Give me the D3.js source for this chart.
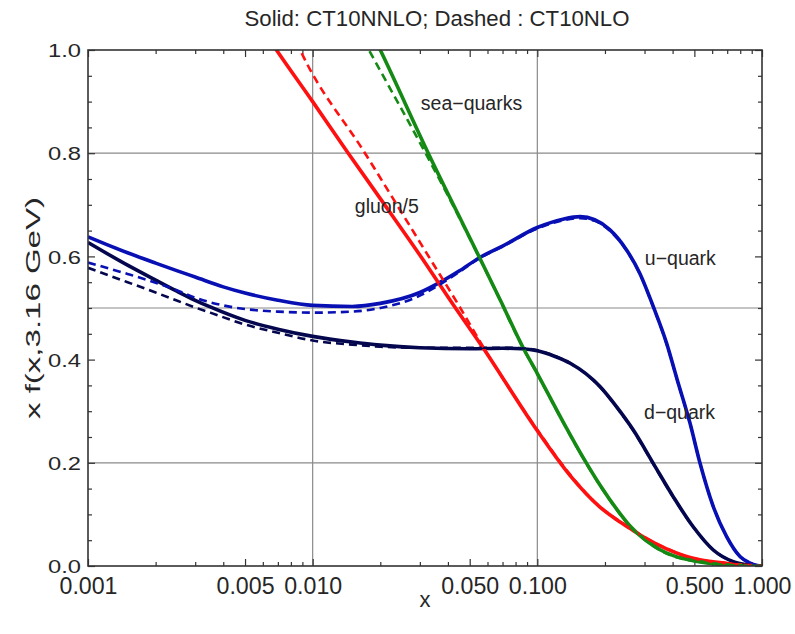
<!DOCTYPE html>
<html><head><meta charset="utf-8">
<script src="https://cdn.jsdelivr.net/npm/d3@7"></script>
<style>
html,body{margin:0;padding:0;background:#fff;}
svg{display:block;font-family:"Liberation Sans",Arial,Helvetica,sans-serif;}
</style></head>
<body>
<svg id="chart" width="795" height="634"></svg>
<script>
// ---------- data ----------
const titleText = "Solid: CT10NNLO; Dashed : CT10NLO";
const xLabelText = "x";
const yLabelText = "x f(x,3.16 GeV)";

const xMajorTicks = [0.001, 0.005, 0.01, 0.05, 0.1, 0.5, 1.0];
const xMinorTicks = [0.002,0.003,0.004,0.006,0.007,0.008,0.009,
                     0.02,0.03,0.04,0.06,0.07,0.08,0.09,
                     0.2,0.3,0.4,0.6,0.7,0.8,0.9];
const yMajorTicks = [0, 0.2, 0.4, 0.6, 0.8, 1.0];
const yMinorTicks = [0.05,0.1,0.15,0.25,0.3,0.35,0.45,0.5,0.55,0.65,0.7,0.75,0.85,0.9,0.95];
const xGrid = [0.01, 0.1];
const yGrid = [0.2, 0.5, 0.8];

// u-quark
const uX_NNLO = [0.001,0.0015,0.002,0.0025,0.003,0.004,0.005,0.007,0.01,0.015,0.02,0.03,0.037,0.045,0.055,0.07,0.1,0.13,0.155,0.18,0.21,0.25,0.286,0.328,0.376,0.42,0.478,0.53,0.607,0.696,0.8,0.88,0.95,1.0];
const uY_NNLO = [0.638,0.607,0.587,0.572,0.560,0.541,0.529,0.515,0.505,0.503,0.509,0.530,0.550,0.572,0.597,0.620,0.656,0.672,0.677,0.671,0.652,0.612,0.567,0.503,0.432,0.360,0.277,0.199,0.115,0.057,0.018,0.006,0.001,0.0];
const uX_NLO  = [0.001,0.0015,0.002,0.0025,0.003,0.004,0.005,0.007,0.01,0.015,0.02,0.03,0.037,0.045,0.055,0.07,0.1,0.13,0.155,0.18,0.21,0.25,0.286,0.328,0.376,0.42,0.478,0.53,0.607,0.696,0.8,0.88,0.95,1.0];
const uY_NLO  = [0.588,0.566,0.549,0.534,0.520,0.505,0.498,0.493,0.491,0.493,0.500,0.524,0.546,0.570,0.596,0.619,0.654,0.670,0.674,0.669,0.650,0.611,0.566,0.502,0.431,0.359,0.277,0.199,0.115,0.057,0.018,0.006,0.001,0.0];

// d-quark
const dX_NNLO = [0.001,0.0015,0.002,0.0025,0.003,0.0035,0.005,0.007,0.01,0.015,0.02,0.03,0.05,0.07,0.085,0.1,0.12,0.14,0.19,0.225,0.267,0.328,0.403,0.494,0.607,0.75,0.88,1.0];
const dY_NNLO = [0.627,0.583,0.554,0.532,0.515,0.502,0.476,0.459,0.445,0.434,0.428,0.423,0.421,0.422,0.421,0.417,0.406,0.393,0.348,0.309,0.264,0.199,0.134,0.076,0.031,0.008,0.002,0.0];
const dX_NLO  = [0.001,0.0015,0.002,0.0025,0.003,0.0035,0.005,0.007,0.01,0.015,0.02,0.03,0.05,0.07,0.085,0.1,0.12,0.14,0.19,0.225,0.267,0.328,0.403,0.494,0.607,0.75,0.88,1.0];
const dY_NLO  = [0.578,0.550,0.530,0.514,0.501,0.491,0.468,0.452,0.437,0.429,0.425,0.423,0.423,0.423,0.422,0.418,0.407,0.393,0.347,0.308,0.263,0.198,0.133,0.076,0.031,0.008,0.002,0.0];

// gluon / 5
const gX_NNLO = [0.0062,0.0069,0.01,0.0144,0.02,0.0322,0.0408,0.0575,0.1,0.14,0.19,0.225,0.258,0.3,0.376,0.45,0.529,0.7,0.9,1.0];
const gY_NNLO = [1.03,1.0,0.900,0.800,0.712,0.583,0.516,0.422,0.262,0.175,0.114,0.090,0.073,0.055,0.033,0.020,0.012,0.005,0.001,0.0];
const gX_NLO  = [0.0080,0.0088,0.0171,0.0339,0.045,0.0575,0.1,0.14,0.19,0.225,0.258,0.3,0.376,0.45,0.529,0.7,0.9,1.0];
const gY_NLO  = [1.04,1.0,0.800,0.590,0.503,0.424,0.264,0.177,0.115,0.091,0.074,0.056,0.034,0.020,0.012,0.005,0.001,0.0];

// sea quarks
const sX_NNLO = [0.019,0.02,0.0327,0.0537,0.0683,0.0867,0.1,0.13,0.16,0.19,0.233,0.258,0.29,0.317,0.35,0.403,0.53,0.7,1.0];
const sY_NNLO = [1.02,1.0,0.800,0.609,0.516,0.422,0.373,0.280,0.210,0.157,0.102,0.078,0.057,0.044,0.032,0.020,0.008,0.002,0.0];
const sX_NLO  = [0.0168,0.0178,0.0318,0.04,0.0537,0.0683,0.0867,0.1,0.13,0.16,0.19,0.233,0.258,0.29,0.317,0.35,0.403,0.53,0.7,1.0];
const sY_NLO  = [1.02,1.0,0.800,0.718,0.608,0.515,0.421,0.372,0.279,0.209,0.156,0.101,0.077,0.056,0.043,0.031,0.019,0.008,0.002,0.0];

const curveLabels = ["sea\u2212quarks", "gluon/5", "u\u2212quark", "d\u2212quark"];
const curveLabelAt = [[0.0303, 0.884], [0.0154, 0.684], [0.301, 0.583], [0.2985, 0.284]];

// ---------- layout ----------
const svg = d3.select("#chart");
const L = 88, R = 762, T = 50, B = 566;
const x = d3.scaleLog().domain([0.001, 1]).range([L, R]);
const y = d3.scaleLinear().domain([0, 1]).range([B, T]);

const colors = {u: "#0810b4", d: "#05074e", g: "#ff1010", s: "#148a14"};
const gridCol = "#8a8a8a", frameCol = "#333", textCol = "#262626";

svg.append("defs").append("clipPath").attr("id","clip")
  .append("rect").attr("x",L).attr("y",T).attr("width",R-L).attr("height",B-T);

// grid
const grid = svg.append("g");
grid.selectAll("line.gx").data(xGrid).join("line")
  .attr("x1",d=>x(d)).attr("x2",d=>x(d)).attr("y1",T).attr("y2",B)
  .attr("stroke",gridCol).attr("stroke-width",1.2);
grid.selectAll("line.gy").data(yGrid).join("line")
  .attr("y1",d=>y(d)).attr("y2",d=>y(d)).attr("x1",L).attr("x2",R)
  .attr("stroke",gridCol).attr("stroke-width",1.2);

// axes ticks
function styleAxis(g){ g.select(".domain").remove(); g.selectAll(".tick line").attr("stroke",frameCol).attr("stroke-width",1.2); }

const xb = svg.append("g").attr("transform",`translate(0,${B})`)
  .call(d3.axisBottom(x).tickValues(xMajorTicks).tickSize(-7).tickFormat(d3.format(".3f")));
styleAxis(xb);
xb.selectAll(".tick text").attr("y",28).attr("dy",null)
  .attr("font-size",24).attr("fill",textCol)
  .attr("textLength",58).attr("lengthAdjust","spacingAndGlyphs");
svg.append("g").attr("transform",`translate(0,${B})`)
  .call(d3.axisBottom(x).tickValues(xMinorTicks).tickSize(-4).tickFormat(""))
  .call(styleAxis);
svg.append("g").attr("transform",`translate(0,${T})`)
  .call(d3.axisTop(x).tickValues(xMajorTicks).tickSize(-7).tickFormat(""))
  .call(styleAxis);
svg.append("g").attr("transform",`translate(0,${T})`)
  .call(d3.axisTop(x).tickValues(xMinorTicks).tickSize(-4).tickFormat(""))
  .call(styleAxis);

const yl = svg.append("g").attr("transform",`translate(${L},0)`)
  .call(d3.axisLeft(y).tickValues(yMajorTicks).tickSize(-7).tickFormat(d3.format(".1f")));
styleAxis(yl);
yl.selectAll(".tick text").attr("x",-7).attr("dy","0.36em")
  .attr("font-size",18.5).attr("fill",textCol)
  .attr("textLength",33).attr("lengthAdjust","spacingAndGlyphs");
svg.append("g").attr("transform",`translate(${L},0)`)
  .call(d3.axisLeft(y).tickValues(yMinorTicks).tickSize(-4).tickFormat(""))
  .call(styleAxis);
svg.append("g").attr("transform",`translate(${R},0)`)
  .call(d3.axisRight(y).tickValues(yMajorTicks).tickSize(-7).tickFormat(""))
  .call(styleAxis);
svg.append("g").attr("transform",`translate(${R},0)`)
  .call(d3.axisRight(y).tickValues(yMinorTicks).tickSize(-4).tickFormat(""))
  .call(styleAxis);

// curves
const line = d3.line().x(d=>x(d[0])).y(d=>y(d[1])).curve(d3.curveMonotoneX);
const zip = (xs, ys) => xs.map((v,i)=>[v, ys[i]]);
const series = [
  {xs:dX_NNLO, ys:dY_NNLO, c:colors.d, dash:false},
  {xs:uX_NNLO, ys:uY_NNLO, c:colors.u, dash:false},
  {xs:gX_NNLO, ys:gY_NNLO, c:colors.g, dash:false},
  {xs:sX_NNLO, ys:sY_NNLO, c:colors.s, dash:false},
  {xs:dX_NLO,  ys:dY_NLO,  c:colors.d, dash:true},
  {xs:uX_NLO,  ys:uY_NLO,  c:colors.u, dash:true},
  {xs:gX_NLO,  ys:gY_NLO,  c:colors.g, dash:true},
  {xs:sX_NLO,  ys:sY_NLO,  c:colors.s, dash:true}
];
const plot = svg.append("g").attr("clip-path","url(#clip)");
series.forEach(s => {
  plot.append("path").attr("d", line(zip(s.xs, s.ys)))
    .attr("fill","none").attr("stroke",s.c)
    .attr("stroke-width", s.dash ? 2.6 : 3.6)
    .attr("stroke-dasharray", s.dash ? "8,5" : null)
    .attr("stroke-linejoin","round");
});

// frame
svg.append("rect").attr("x",L).attr("y",T).attr("width",R-L).attr("height",B-T)
  .attr("fill","none").attr("stroke",frameCol).attr("stroke-width",1.6);

// curve labels
svg.append("g").selectAll("text").data(curveLabels).join("text")
  .attr("x",(d,i)=>x(curveLabelAt[i][0])).attr("y",(d,i)=>y(curveLabelAt[i][1]))
  .attr("font-size",19.5).attr("fill",textCol).text(d=>d);

// title and axis labels
svg.append("text").attr("x",437).attr("y",26).attr("text-anchor","middle")
  .attr("font-size",21.5).attr("fill",textCol)
  .attr("textLength",385).attr("lengthAdjust","spacingAndGlyphs").text(titleText);
svg.append("text").attr("x",425).attr("y",607).attr("text-anchor","middle")
  .attr("font-size",22).attr("fill",textCol)
  .attr("textLength",11).attr("lengthAdjust","spacingAndGlyphs").text(xLabelText);
svg.append("text").attr("transform","translate(40,308) rotate(-90)").attr("text-anchor","middle")
  .attr("font-size",21).attr("fill",textCol)
  .attr("textLength",222).attr("lengthAdjust","spacingAndGlyphs").text(yLabelText);
</script>
</body></html>
